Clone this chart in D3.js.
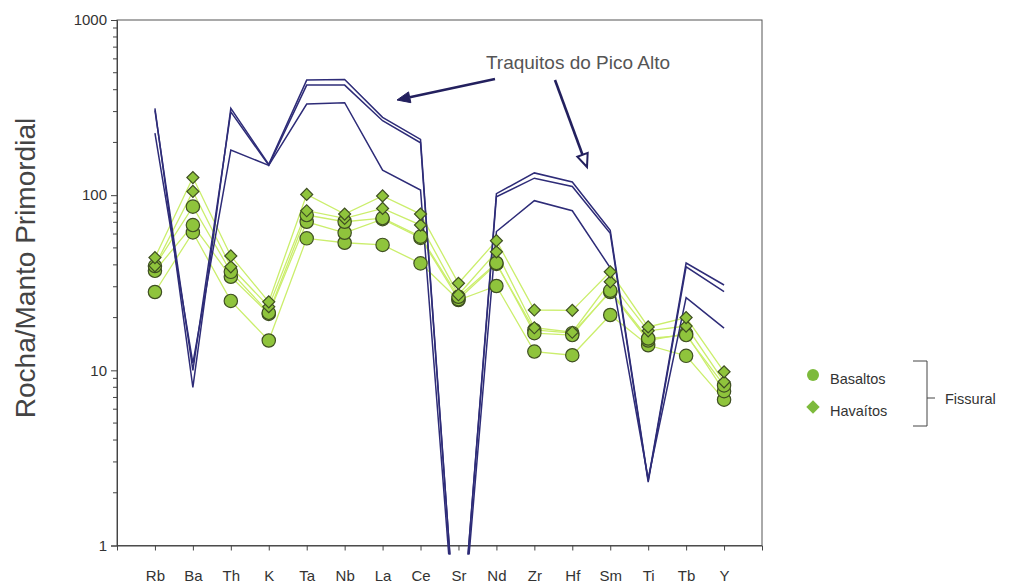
<!DOCTYPE html>
<html><head><meta charset="utf-8">
<script src="https://cdn.jsdelivr.net/npm/d3@7"></script>
<style>body{margin:0;background:#fff;}svg{display:block;font-family:"Liberation Sans",Arial,sans-serif;}</style>
</head><body>
<svg id="c" width="1018" height="588"></svg>
<script>
const elements = ["Rb","Ba","Th","K","Ta","Nb","La","Ce","Sr","Nd","Zr","Hf","Sm","Ti","Tb","Y"];
const yTicks = [1,10,100,1000];

// Traquitos do Pico Alto
const traq1 = [313,8,313,150,454,458,278,208,0.18,102,134,119,63,2.35,41,30.7];
const traq2 = [305,10,299,148,425,425,266,199,0.18,98,125,112,60.5,2.3,39,28.1];
const traq3 = [226,11,181,148,331,337,139,107,0.17,62,93,81.5,38.5,2.4,26,17.4];

// Havaítos (fissural)
const hav1 = [44,126,45,24.6,101,78,99,78,31.4,55,22.1,22,36.5,17.7,20,9.8];
const hav2 = [39.5,105,39,23.1,81.5,73.7,84,67.5,27,47.5,17.5,16.5,32,16.8,17.9,8.6];
// Basaltos (fissural)
const bas1 = [39.4,86,36.5,21.3,77,70.5,74,58,26.3,41,16.3,15.9,28.5,15.2,15.9,8.2];
const bas2 = [37,67.5,34.2,21,70.5,61,73,57,25.5,40.5,17,16.3,28,14.8,16.2,7.6];
const bas3 = [28,61.3,24.9,14.8,56.7,53.5,52,40.8,25.2,30.3,12.8,12.2,20.7,13.9,12.1,6.8];

const traqSeries = [traq1,traq2,traq3];
const greenSeries = [
  {v:bas3,shape:"circle"},{v:bas2,shape:"circle"},{v:bas1,shape:"circle"},
  {v:hav2,shape:"diamond"},{v:hav1,shape:"diamond"}
];

const svg = d3.select("#c");
const L=117, R=762, T=20, B=545.5;
const x = d3.scalePoint().domain(elements).range([L,R]).padding(1);
const y = d3.scaleLog().domain([1,1000]).range([B,T]);

// frame
svg.append("rect").attr("x",L).attr("y",T).attr("width",R-L).attr("height",B-T)
  .attr("fill","none").attr("stroke","#555").attr("stroke-width",1);

// y axis
const minor = [];
for (let d=1; d<1000; d*=10) for (let k=2;k<=9;k++) minor.push(d*k);
const yAxis = svg.append("g").attr("transform",`translate(${L},0)`)
  .call(d3.axisLeft(y).tickValues(yTicks).tickFormat(d3.format("d")).tickSize(6).tickPadding(4));
yAxis.select(".domain").attr("stroke","#444");
yAxis.selectAll(".tick line").attr("stroke","#444");
yAxis.selectAll("text").attr("font-size",15).attr("fill","#333");
svg.append("g").selectAll("line").data(minor).join("line")
  .attr("x1",L-4).attr("x2",L).attr("y1",d=>y(d)).attr("y2",d=>y(d)).attr("stroke","#444");

// x axis
const xAxis = svg.append("g").attr("transform",`translate(0,${B})`)
  .call(d3.axisBottom(x).tickSize(5).tickPadding(20));
xAxis.select(".domain").attr("stroke","#444");
xAxis.selectAll(".tick line").attr("stroke","#444");
xAxis.selectAll("text").attr("font-size",15).attr("fill","#333");

// y title
svg.append("text").attr("transform","translate(35,268) rotate(-90)")
  .attr("text-anchor","middle").attr("font-size",28).attr("fill","#444").text("Rocha/Manto Primordial");

// clip
svg.append("clipPath").attr("id","clip").append("rect")
  .attr("x",L).attr("y",T).attr("width",R-L).attr("height",B-T+9);

const line = d3.line().x((d,i)=>x(elements[i])).y(d=>y(d));

// green connecting lines
svg.append("g").selectAll("path").data(greenSeries).join("path")
  .attr("d",d=>line(d.v)).attr("fill","none").attr("stroke","#cbee6c").attr("stroke-width",1.3);

// trachyte lines
svg.append("g").attr("clip-path","url(#clip)").selectAll("path").data(traqSeries).join("path")
  .attr("d",d=>line(d)).attr("fill","none").attr("stroke","#2e2c78").attr("stroke-width",1.5);

// markers
const sym = {circle:d3.symbol().type(d3.symbolCircle).size(140),
             diamond:d3.symbol().type(d3.symbolSquare).size(72)};
greenSeries.forEach(s=>{
  svg.append("g").selectAll("path").data(s.v).join("path")
    .attr("d",sym[s.shape]())
    .attr("transform",(d,i)=>`translate(${x(elements[i])},${y(d)})`+(s.shape==="diamond"?" rotate(45)":""))
    .attr("fill","#8fc43c").attr("stroke","#3f4f22").attr("stroke-width",1.2);
});

// annotation
svg.append("text").attr("x",578).attr("y",69).attr("text-anchor","middle")
  .attr("font-size",19).attr("fill","#555").text("Traquitos do Pico Alto");
const arrowCol = "#23205e";
function arrow(x1,y1,x2,y2,filled){
  const a = Math.atan2(y2-y1,x2-x1), len=13, w=5.5;
  const bx = x2-len*Math.cos(a), by = y2-len*Math.sin(a);
  svg.append("line").attr("x1",x1).attr("y1",y1).attr("x2",bx).attr("y2",by)
    .attr("stroke",arrowCol).attr("stroke-width",2.6);
  const p = [[x2,y2],[bx+w*Math.sin(a),by-w*Math.cos(a)],[bx-w*Math.sin(a),by+w*Math.cos(a)]];
  svg.append("polygon").attr("points",p.map(q=>q.join(",")).join(" "))
    .attr("fill",filled?arrowCol:"#fff").attr("stroke",arrowCol).attr("stroke-width",filled?1:2);
}
arrow(495,79,397,100,true);
arrow(555,80,587,167,false);

// legend
svg.append("circle").attr("cx",813).attr("cy",375).attr("r",6).attr("fill","#7dba3c");
svg.append("path").attr("d",d3.symbol().type(d3.symbolSquare).size(90)())
  .attr("transform","translate(813,407) rotate(45)").attr("fill","#7dba3c");
svg.append("text").attr("x",830).attr("y",384).attr("font-size",14.5).attr("fill","#333").text("Basaltos");
svg.append("text").attr("x",830).attr("y",416).attr("font-size",14.5).attr("fill","#333").text("Havaítos");
svg.append("path").attr("d","M913,361 H927 V426 H913 M927,398 H935")
  .attr("fill","none").attr("stroke","#444").attr("stroke-width",1);
svg.append("text").attr("x",945).attr("y",404).attr("font-size",14.5).attr("fill","#333").text("Fissural");
</script>
</body></html>
